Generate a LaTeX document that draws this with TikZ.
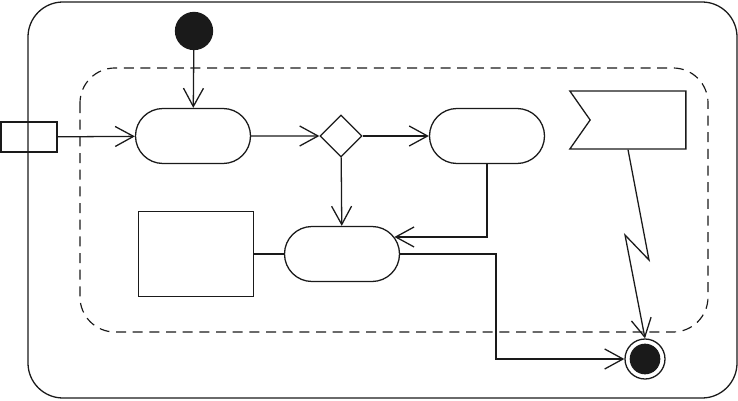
\documentclass[tikz,border=0pt]{standalone}
\usepackage{tikz}
\usetikzlibrary{arrows.meta,positioning,shapes.geometric,shapes.misc,shapes.symbols}
\usepackage{xcolor}
\definecolor{ink}{HTML}{1A1A1A}
\tikzset{
  >={Straight Barb[length=5.5mm,width=6mm]},
  every node/.style={draw=ink,line width=1.1pt},
  action/.style={rounded rectangle,minimum width=3.45cm,minimum height=1.65cm,inner sep=0pt},
  decision/.style={diamond,minimum width=1.26cm,minimum height=1.26cm,inner sep=0pt},
  objbox/.style={rectangle,minimum width=3.45cm,minimum height=2.55cm,inner sep=0pt},
  pinbox/.style={rectangle,minimum width=1.68cm,minimum height=0.9cm,inner sep=0pt},
  acceptev/.style={signal,signal to=nowhere,signal from=west,signal pointer angle=110,minimum width=3.48cm,minimum height=1.74cm,inner sep=0pt},
  initnode/.style={circle,fill=ink,minimum size=1.11cm,inner sep=0pt},
  finalring/.style={circle,fill=white,minimum size=1.2cm,inner sep=0pt},
  finaldot/.style={circle,fill=ink,draw=none,minimum size=0.92cm,inner sep=0pt},
  flow/.style={->,line width=1.1pt,draw=ink},
  plain/.style={line width=1.1pt,draw=ink},
  region/.style={dashed,dash pattern=on 3mm off 2mm,line width=1pt,draw=ink,rounded corners=1.05cm},
  frame/.style={line width=1.1pt,draw=ink,rounded corners=1.05cm},
}

\begin{document}
\begin{tikzpicture}[x=0.03cm,y=-0.03cm]
\useasboundingbox (0,0) rectangle (738,401);

% activity frame and interruptible region
\draw[frame] (28,2) rectangle (737,398);
\draw[region] (80,68) rectangle (708,332);

\node[pinbox] (pin) at (29,137) {};
\node[initnode] (start) at (194,31) {};
\node[action] (act1) at (193,136) {};
\node[decision] (choice) at (341,136) {};
\node[action] (act2) at (487,136) {};
\node[acceptev] (event) at (638,120) {};
\node[objbox] (store) at (196,254) {};
\node[action] (act3) at (342,254) {};
\node[finalring] (final) at (645,359) {};
\node[finaldot] (finaldot) at (final) {};

\draw[flow] (start) -- (act1);
\draw[flow] (pin) -- (act1);
\draw[flow] (act1) -- (choice);
\draw[flow] (choice) -- (act2);
\draw[flow] (choice) -- (act3);
\draw[flow] (act2.south) |- (act3.18);
\draw[plain] (store) -- (act3);

% exits to the final node
\coordinate (bend) at (496,359);
\draw[flow] (act3.east) -| (bend) -- (final.west);
\coordinate (zigA) at (649,260);
\coordinate (zigB) at (625,235);
\draw[flow] ([xshift=-0.3cm]event.south) -- (zigA) -- (zigB) -- (final.north);

\end{tikzpicture}
\end{document}
